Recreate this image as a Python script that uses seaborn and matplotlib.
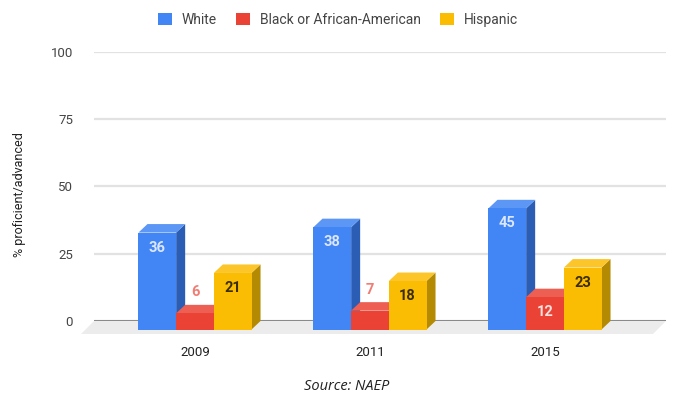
import numpy as np
import pandas as pd
import seaborn as sns
import matplotlib
matplotlib.use("Agg")
import matplotlib.pyplot as plt
from matplotlib.patches import Polygon, Patch

# ---- data -------------------------------------------------------------
years = ["2009", "2011", "2015"]
groups = ["White", "Black or African-American", "Hispanic"]
white = [36, 38, 45]
black = [6, 7, 12]
hispanic = [21, 18, 23]
y_ticks = [0, 25, 50, 75, 100]

# ---- styling ----------------------------------------------------------
front = {"White": "#4285F4", "Black or African-American": "#EA4335", "Hispanic": "#FBBC04"}
side = {"White": "#2C5DB5", "Black or African-American": "#B1322A", "Hispanic": "#B58A03"}
top = {"White": "#5C97F6", "Black or African-American": "#EE5F53", "Hispanic": "#FCC62B"}
inside_txt = {"White": "#DCE7FD", "Black or African-American": "#FBE0DE", "Hispanic": "#3A2E00"}
above_txt = {"White": "#7FA9F8", "Black or African-American": "#F07D74", "Hispanic": "#C99A10"}

sns.set_theme(style="white")
plt.rcParams["font.family"] = ["Roboto", "DejaVu Sans"]

df = pd.DataFrame({
    "year": years * 3,
    "group": [g for g in groups for _ in years],
    "value": white + black + hispanic,
})

fig = plt.figure(figsize=(6.75, 3.97), dpi=100)
ax = fig.add_axes([94 / 675, 76 / 397, 572 / 675, 269.3 / 397])

sns.barplot(data=df, x="year", y="value", hue="group", order=years,
            hue_order=groups, palette=front, saturation=1, width=0.646,
            linewidth=0, legend=False, ax=ax, zorder=3)

ax.set_xlim(-0.6286, 2.64)
ax.set_ylim(0, 100)

# pixel -> data conversion for the 3D depth offsets
ppx = ax.transData.transform((1, 0))[0] - ax.transData.transform((0, 0))[0]
ppy = ax.transData.transform((0, 1))[1] - ax.transData.transform((0, 0))[1]
dxd, dyd = 9 / ppx, 8.5 / ppy
fdx, fdy = 13 / ppx, 13 / ppy

# floor under the bars
x0l, x1l = ax.get_xlim()
floor = Polygon([(x0l, 0), (x1l, 0), (x1l - fdx, -fdy), (x0l - fdx, -fdy)],
                closed=True, facecolor="#ECECEC", edgecolor="none",
                zorder=1, clip_on=False)
ax.add_patch(floor)

# back-wall gridlines
for t in y_ticks[1:]:
    ax.axhline(t, color="#E2E2E2", lw=1.6, zorder=0.5)
ax.axhline(0, color="#8A8A8A", lw=1.5, zorder=1.5)

# turn the flat bars into boxes (one container per group)
bars = []
for g, cont in zip(groups, ax.containers):
    for p in cont.patches:
        bars.append((p, g))
bars.sort(key=lambda item: item[0].get_x())

for k, (p, g) in enumerate(bars):
    x0, w, h = p.get_x(), p.get_width(), p.get_height()
    z = 3 + k * 0.01
    p.set_x(x0 - dxd)
    p.set_y(-dyd)
    p.set_clip_on(False)
    p.set_zorder(z + 0.002)
    sf = Polygon([(x0 + w - dxd, -dyd), (x0 + w, 0), (x0 + w, h), (x0 + w - dxd, h - dyd)],
                 closed=True, facecolor=side[g], edgecolor="none", zorder=z, clip_on=False)
    tf = Polygon([(x0 - dxd, h - dyd), (x0 + w - dxd, h - dyd), (x0 + w, h), (x0, h)],
                 closed=True, facecolor=top[g], edgecolor="none", zorder=z + 0.001, clip_on=False)
    ax.add_patch(sf)
    ax.add_patch(tf)
    cx = x0 - dxd + w / 2
    if h >= 10:
        ax.text(cx, h - dyd - 15 / ppy, f"{h:g}", ha="center", va="center",
                fontsize=10.5, fontweight="bold", color=inside_txt[g], zorder=10)
    else:
        ax.text(cx, h - dyd + 21 / ppy, f"{h:g}", ha="center", va="center",
                fontsize=10.5, fontweight="bold", color=above_txt[g], zorder=10)

# axes decoration
sns.despine(ax=ax, left=True, bottom=True)
ax.set_yticks(y_ticks)
ax.set_yticklabels([str(t) for t in y_ticks])
ax.tick_params(axis="y", length=0, pad=15, labelsize=9.5, labelcolor="#444444")
ax.set_xticks([i - dxd for i in range(len(years))])
ax.set_xticklabels(years)
ax.tick_params(axis="x", length=0, pad=18, labelsize=9.5, labelcolor="#222222")
ax.set_xlabel("")
ax.set_ylabel("")
ax.grid(False)

fig.text(20 / 675, 1 - 195 / 397, "% proficient/advanced", rotation=90,
         ha="center", va="center", fontsize=9, color="#222222")

handles = [Patch(facecolor=front[g], edgecolor="none", label=g) for g in groups]
fig.legend(handles=handles, loc="center", bbox_to_anchor=(338 / 675, 1 - 20 / 397),
           ncol=3, frameon=False, fontsize=10, labelcolor="#444444",
           handlelength=1.0, handleheight=1.0, handletextpad=0.7,
           columnspacing=1.4)

fig.text(347 / 675, 1 - 386 / 397, "Source: NAEP", ha="center", va="center",
         fontsize=10.5, style="italic", color="#222222",
         family=["Open Sans", "DejaVu Sans"])

fig.savefig("out.png", dpi=100)
